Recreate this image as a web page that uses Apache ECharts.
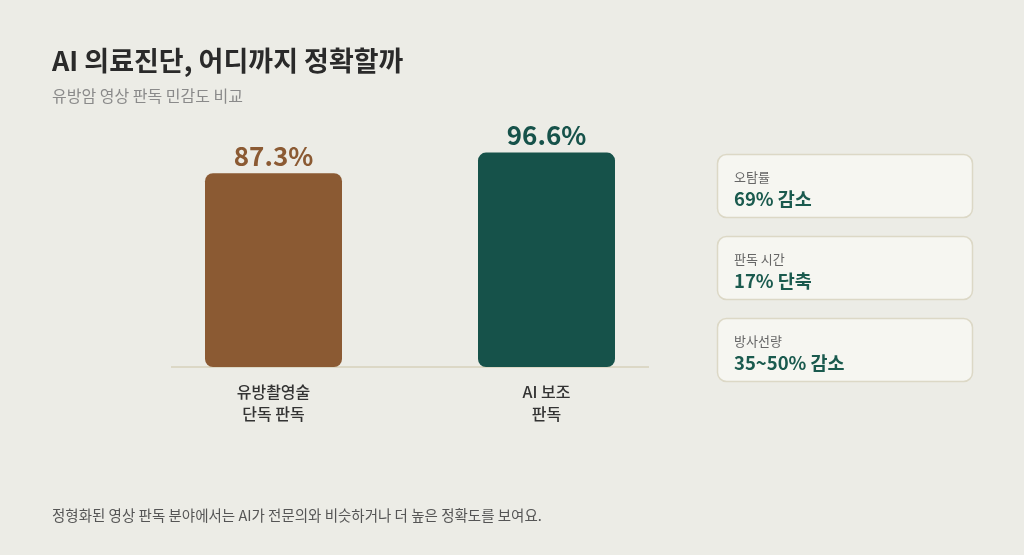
<!DOCTYPE html>
<html>
<head>
<meta charset="utf-8">
<script src="https://cdn.jsdelivr.net/npm/echarts@6/dist/echarts.min.js"></script>
<style>
  html, body { margin: 0; padding: 0; background: #ecece6; }
  #chart { width: 1024px; height: 555px; }
</style>
</head>
<body>
<div id="chart"></div>
<script>
const categories = ['유방촬영술\n단독 판독', 'AI 보조\n판독']
const sensitivity = [87.3, 96.6]
const barColors = ['#8b5a33', '#16524a']
const cardLabels = ['오탐률', '판독 시간', '방사선량']
const cardValues = ['69% 감소', '17% 단축', '35~50% 감소']

const FONT = '"Noto Sans CJK KR", "Noto Sans", sans-serif'
const chart = echarts.init(document.getElementById('chart'))

// 오른쪽 카드
const cards = []
cardLabels.forEach((label, i) => {
  const top = 154 + i * 82
  cards.push({
    type: 'rect',
    shape: { x: 717.5, y: top + 0.5, width: 255, height: 63, r: 9 },
    style: { fill: '#f6f6f1', stroke: '#dcd8c6', lineWidth: 1.5 }
  })
  cards.push({
    type: 'text', left: 734, top: top + 17,
    style: { text: label, font: '13px ' + FONT, fill: '#666' }
  })
  cards.push({
    type: 'text', left: 734, top: top + 36,
    style: { text: cardValues[i], font: 'bold 18.5px ' + FONT, fill: '#1a5a4e' }
  })
})

const option = {
  backgroundColor: '#ecece6',
  textStyle: { fontFamily: FONT },
  title: {
    text: 'AI 의료진단, 어디까지 정확할까',
    subtext: '유방암 영상 판독 민감도 비교',
    left: 47,
    top: 42,
    itemGap: 14,
    textStyle: { fontSize: 27, fontWeight: 'bold', color: '#2a2a2a', fontFamily: FONT },
    subtextStyle: { fontSize: 16, color: '#8a8a8a', fontFamily: FONT }
  },
  grid: { left: 137, width: 546, top: 145, bottom: 188 },
  xAxis: {
    type: 'category',
    data: categories,
    axisLine: { show: false },
    axisTick: { show: false },
    axisLabel: { fontSize: 16, fontWeight: 500, color: '#333', lineHeight: 22, margin: 14, fontFamily: FONT }
  },
  yAxis: {
    type: 'value', min: 0, max: 100, show: false
  },
  series: [{
    type: 'bar',
    barWidth: 137,
    data: sensitivity.map((v, i) => ({
      value: v,
      itemStyle: { color: barColors[i], borderRadius: 8 },
      label: { color: barColors[i] }
    })),
    label: {
      show: true, position: 'top', distance: 4,
      fontSize: 26, fontWeight: 'bold', fontFamily: FONT,
      formatter: p => p.value + '%'
    },
    z: 3
  }],
  graphic: [
    {
      type: 'line', z: 1,
      shape: { x1: 171, y1: 367, x2: 649, y2: 367 },
      style: { stroke: '#dcd8c6', lineWidth: 2 }
    },
    ...cards,
    {
      type: 'text', left: 52, top: 508,
      style: {
        text: '정형화된 영상 판독 분야에서는 AI가 전문의와 비슷하거나 더 높은 정확도를 보여요.',
        font: '14.5px ' + FONT, fill: '#555'
      }
    }
  ]
}
chart.setOption(option)
</script>
</body>
</html>
